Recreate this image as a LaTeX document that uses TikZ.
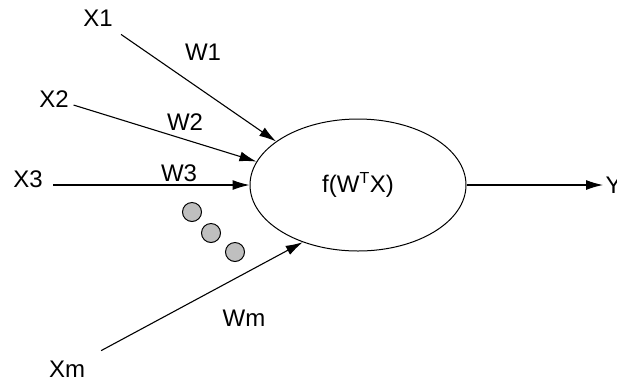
\documentclass[tikz,border=0pt]{standalone}
\usepackage{fontspec}
\setmainfont{Liberation Sans}
\usetikzlibrary{arrows.meta,positioning,shapes.geometric}
\tikzstyle{neuron}=[draw, ellipse, line width=1pt, minimum width=216pt, minimum height=132pt, inner sep=0pt]
\tikzstyle{dot}=[draw, circle, fill=black!25, line width=1pt, minimum size=19pt, inner sep=0pt]
\tikzstyle{label}=[inner sep=2pt]

\begin{document}
\begin{tikzpicture}[x=1pt,y=-1pt,>={Latex[length=17pt,width=10pt]},line width=1.1pt,font=\fontsize{24}{28}\selectfont]
                        \useasboundingbox (0,0) rectangle (617,384);
                        \node [neuron] (n) at (358,185) {f(W\textsuperscript{\fontsize{16}{16}\selectfont T}X)};
                        \node [label] (x1) at (98,18.5) {X1};
                        \node [label] (x2) at (54,99) {X2};
                        \node [label] (x3) at (28,179.5) {X3};
                        \node [label] (xm) at (67,369) {Xm};
                        \node [label] (w1) at (203,52) {W1};
                        \node [label] (w2) at (185,122) {W2};
                        \node [label] (w3) at (179,173) {W3};
                        \node [label] (wm) at (244,318) {Wm};
                        \node [label,anchor=west] (y) at (603,185) {Y};
                        \node [dot] (d1) at (192,212) {};
                        \node [dot] (d2) at (211,233) {};
                        \node [dot] (d3) at (235,252) {};
                        \path[->]
                        (x1) edge[shorten <=9pt] (n.152)
                        (x2) edge[shorten <=2.5pt] (n.167.6)
                        (x3.east |- n.west) edge[shorten <=8pt] (n.west)
                        (xm) edge[shorten <=16pt] (n.226)
                        (n.east) edge (y.west);
                    \end{tikzpicture}
\end{document}
